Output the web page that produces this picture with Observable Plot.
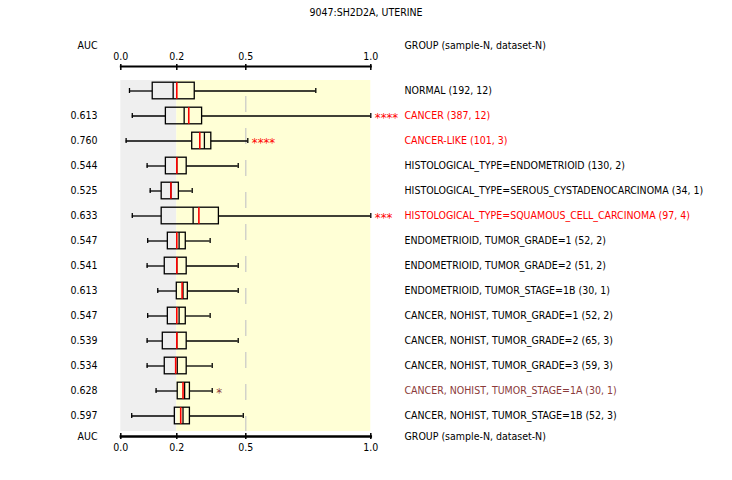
<!DOCTYPE html>
<html>
<head>
<meta charset="utf-8">
<script src="https://cdn.jsdelivr.net/npm/d3@7"></script>
<script src="https://cdn.jsdelivr.net/npm/@observablehq/plot@0.6"></script>
<style>
  html, body { margin: 0; padding: 0; background: #ffffff; }
  #chart svg { display: block; }
</style>
</head>
<body>
<div id="chart"></div>
<script>
// ---- data ----
const title = "9047:SH2D2A, UTERINE";
const groups = [
  "NORMAL (192, 12)",
  "CANCER (387, 12)",
  "CANCER-LIKE (101, 3)",
  "HISTOLOGICAL_TYPE=ENDOMETRIOID (130, 2)",
  "HISTOLOGICAL_TYPE=SEROUS_CYSTADENOCARCINOMA (34, 1)",
  "HISTOLOGICAL_TYPE=SQUAMOUS_CELL_CARCINOMA (97, 4)",
  "ENDOMETRIOID, TUMOR_GRADE=1 (52, 2)",
  "ENDOMETRIOID, TUMOR_GRADE=2 (51, 2)",
  "ENDOMETRIOID, TUMOR_STAGE=1B (30, 1)",
  "CANCER, NOHIST, TUMOR_GRADE=1 (52, 2)",
  "CANCER, NOHIST, TUMOR_GRADE=2 (65, 3)",
  "CANCER, NOHIST, TUMOR_GRADE=3 (59, 3)",
  "CANCER, NOHIST, TUMOR_STAGE=1A (30, 1)",
  "CANCER, NOHIST, TUMOR_STAGE=1B (52, 3)"
];
const auc     = [null, 0.613, 0.760, 0.544, 0.525, 0.633, 0.547, 0.541, 0.613, 0.547, 0.539, 0.534, 0.628, 0.597];
const whiskLo = [0.031, 0.041, 0.019, 0.094, 0.105, 0.041, 0.096, 0.094, 0.132, 0.096, 0.094, 0.094, 0.126, 0.039];
const q1      = [0.114, 0.161, 0.267, 0.161, 0.146, 0.146, 0.168, 0.157, 0.200, 0.168, 0.150, 0.157, 0.204, 0.193];
const median  = [0.187, 0.232, 0.320, 0.200, 0.179, 0.271, 0.210, 0.200, 0.227, 0.210, 0.200, 0.202, 0.234, 0.227];
const mean    = [0.200, 0.252, 0.300, 0.200, 0.179, 0.296, 0.200, 0.200, 0.223, 0.200, 0.200, 0.196, 0.227, 0.217];
const q3      = [0.278, 0.310, 0.350, 0.243, 0.209, 0.383, 0.239, 0.243, 0.248, 0.239, 0.243, 0.243, 0.257, 0.257];
const whiskHi = [0.780, 1.000, 0.508, 0.467, 0.267, 1.000, 0.345, 0.467, 0.467, 0.345, 0.467, 0.354, 0.354, 0.489];
const stars   = ["", "****", "****", "", "", "***", "", "", "", "", "", "", "*", ""];
const signif  = ["none", "high", "high", "none", "none", "high", "none", "none", "none", "none", "none", "none", "low", "none"];
const xTicks  = [0, 0.2, 0.5, 1.0];
const zoneLow = [0, 0.2];
const zoneHigh = [0.2, 1.0];
const refLine = [0.5];

// ---- styles / layout ----
const signifColor = {none: "#000000", high: "#ff0000", low: "#8b3a3a"};
// the reference axis is piecewise: 0.2 and 0.5 sit at these fractions of the axis length
const axisWarp = d3.scaleLinear().domain([0, 0.2, 0.5, 1]).range([0, 0.224, 0.5, 1]);
const rows = groups.map((g, i) => ({
  group: g, auc: auc[i], lo: whiskLo[i], q1: q1[i], med: median[i],
  mean: mean[i], q3: q3[i], hi: whiskHi[i], stars: stars[i], sig: signif[i]
}));
const fmt3 = d3.format(".3f");
const fmt1 = d3.format(".1f");
// axis ticks are given in the warped (scale) space, labelled with the original value
const warpedTicks = xTicks.map(axisWarp);
const tickLabel = t => fmt1(axisWarp.invert(t));
const font = "'DejaVu Sans Condensed', 'DejaVu Sans', sans-serif";

const chart = Plot.plot({
  width: 732,
  height: 480,
  marginLeft: 120.3,
  marginRight: 361.7,
  marginTop: 66,
  marginBottom: 44,
  style: {fontFamily: font, fontSize: "10.5px", background: "#ffffff", color: "#000000", overflow: "visible"},
  x: {type: "linear", transform: axisWarp, domain: [0, 1], range: [120.3, 370.3]},
  y: {type: "band", domain: groups, range: [77.5, 427.5], padding: 0, axis: null},
  marks: [
    Plot.rect([zoneLow], {x1: d => d[0], x2: d => d[1], fill: "#efefef", insetTop: 14, insetBottom: 5}),
    Plot.rect([zoneHigh], {x1: d => d[0], x2: d => d[1], fill: "#ffffd6", insetTop: 14, insetBottom: 5}),
    Plot.ruleX(refLine, {stroke: "#c8c8c8", strokeWidth: 1.2, insetTop: 14, insetBottom: 5, strokeDasharray: "16,16", strokeDashoffset: 16}),
    // whiskers
    Plot.ruleY(rows, {y: "group", x1: "lo", x2: "q1", stroke: "#000", strokeWidth: 1.3}),
    Plot.ruleY(rows, {y: "group", x1: "q3", x2: "hi", stroke: "#000", strokeWidth: 1.3}),
    Plot.tickX(rows, {x: "lo", y: "group", stroke: "#000", strokeWidth: 1.3, insetTop: 10, insetBottom: 10}),
    Plot.tickX(rows, {x: "hi", y: "group", stroke: "#000", strokeWidth: 1.3, insetTop: 10, insetBottom: 10}),
    // boxes
    Plot.rectX(rows, {x1: "q1", x2: "q3", y: "group", fill: "none", stroke: "#000", strokeWidth: 1.3, insetTop: 4.2, insetBottom: 4.2}),
    Plot.tickX(rows, {x: "med", y: "group", stroke: "#000", strokeWidth: 1.3, insetTop: 4.2, insetBottom: 4.2}),
    Plot.tickX(rows, {x: "mean", y: "group", stroke: "#ff0000", strokeWidth: 1.6, insetTop: 4.2, insetBottom: 4.2}),
    // significance stars
    Plot.text(rows, {x: "hi", y: "group", text: "stars", dx: 4, dy: 2, textAnchor: "start", fontSize: 13, fill: d => signifColor[d.sig]}),
    // labels
    Plot.text(rows, {y: "group", text: "group", frameAnchor: "right", dx: 33.7, textAnchor: "start", fill: d => signifColor[d.sig]}),
    Plot.text(rows, {y: "group", text: d => d.auc == null ? "" : fmt3(d.auc), frameAnchor: "left", dx: -23.3, textAnchor: "end"}),
    // headers / footers
    Plot.text(["AUC"], {frameAnchor: "top-left", dx: -23.3, dy: -25, textAnchor: "end"}),
    Plot.text(["GROUP (sample-N, dataset-N)"], {frameAnchor: "top-right", dx: 33.7, dy: -25, textAnchor: "start"}),
    Plot.text(["AUC"], {frameAnchor: "bottom-left", dx: -23.3, dy: 3.5, textAnchor: "end"}),
    Plot.text(["GROUP (sample-N, dataset-N)"], {frameAnchor: "bottom-right", dx: 33.7, dy: 3, textAnchor: "start"}),
    Plot.text([title], {frameAnchor: "top-right", dx: -4.8, dy: -58, textAnchor: "middle"}),
    // axes
    Plot.frame({anchor: "top", stroke: "#000", strokeWidth: 2}),
    Plot.frame({anchor: "bottom", stroke: "#000", strokeWidth: 2.5}),
    Plot.axisX({anchor: "top", ticks: warpedTicks, tickFormat: tickLabel, tickSize: 6, tickPadding: 4, dy: 3, strokeWidth: 1.5, label: null, fontSize: 10.5}),
    Plot.axisX({anchor: "bottom", ticks: warpedTicks, tickFormat: tickLabel, tickSize: 6, tickPadding: 4, dy: -3, strokeWidth: 1.5, label: null, fontSize: 10.5})
  ]
});
document.getElementById("chart").appendChild(chart);
</script>
</body>
</html>
